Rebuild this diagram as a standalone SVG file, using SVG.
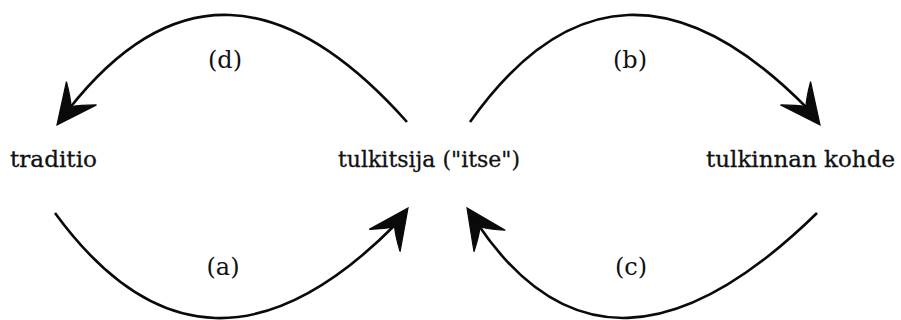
<svg xmlns="http://www.w3.org/2000/svg" xmlns:xlink="http://www.w3.org/1999/xlink" width="901" height="320" viewBox="0 0 901 320">
<style>
.bg{fill:#ffffff}
.edge{fill:none;stroke:#0a0a0a;stroke-width:2.6;stroke-linecap:butt}
.head{fill:#0a0a0a;stroke:#0a0a0a;stroke-width:1.2;stroke-linejoin:miter}
.node{font-family:"DejaVu Serif","Liberation Serif",serif;font-size:23px;fill:#111;stroke:#111;stroke-width:0.3}
.lbl{font-family:"DejaVu Serif","Liberation Serif",serif;font-size:24px;fill:#111;text-anchor:middle}
</style>
<defs>
<path id="ah" d="M0,0 L-40,-19 Q-30,-6 -23,0 Q-30,6 -40,19 Z"/>
</defs>
<rect class="bg" x="0" y="0" width="901" height="320"/>
<g id="connectors">
<g id="edge-d">
<path class="edge" d="M407,122 Q222,-85.5 69,109"/>
<use class="head" xlink:href="#ah" transform="translate(57,125) rotate(127.7)"/>
<text class="lbl" x="225" y="68">(d)</text>
</g>
<g id="edge-b">
<path class="edge" d="M470,122 Q617,-85.5 808,109"/>
<use class="head" xlink:href="#ah" transform="translate(820,125) rotate(52.3)"/>
<text class="lbl" x="630" y="68">(b)</text>
</g>
<g id="edge-a">
<path class="edge" d="M55,213 Q204.5,417.5 396,224"/>
<use class="head" xlink:href="#ah" transform="translate(408,208) rotate(-54.3)"/>
<text class="lbl" x="223" y="275">(a)</text>
</g>
<g id="edge-c">
<path class="edge" d="M817,213 Q608.5,417 478,224.5"/>
<use class="head" xlink:href="#ah" transform="translate(467,208) rotate(-124.5)"/>
<text class="lbl" x="631" y="275">(c)</text>
</g>
</g>
<g id="node-traditio">
<text class="node" x="10" y="167" textLength="87" lengthAdjust="spacingAndGlyphs">traditio</text>
</g>
<g id="node-tulkitsija">
<text class="node" x="338" y="167" textLength="182" lengthAdjust="spacingAndGlyphs">tulkitsija ("itse")</text>
</g>
<g id="node-kohde">
<text class="node" x="706" y="167" textLength="189" lengthAdjust="spacingAndGlyphs">tulkinnan kohde</text>
</g>
</svg>
